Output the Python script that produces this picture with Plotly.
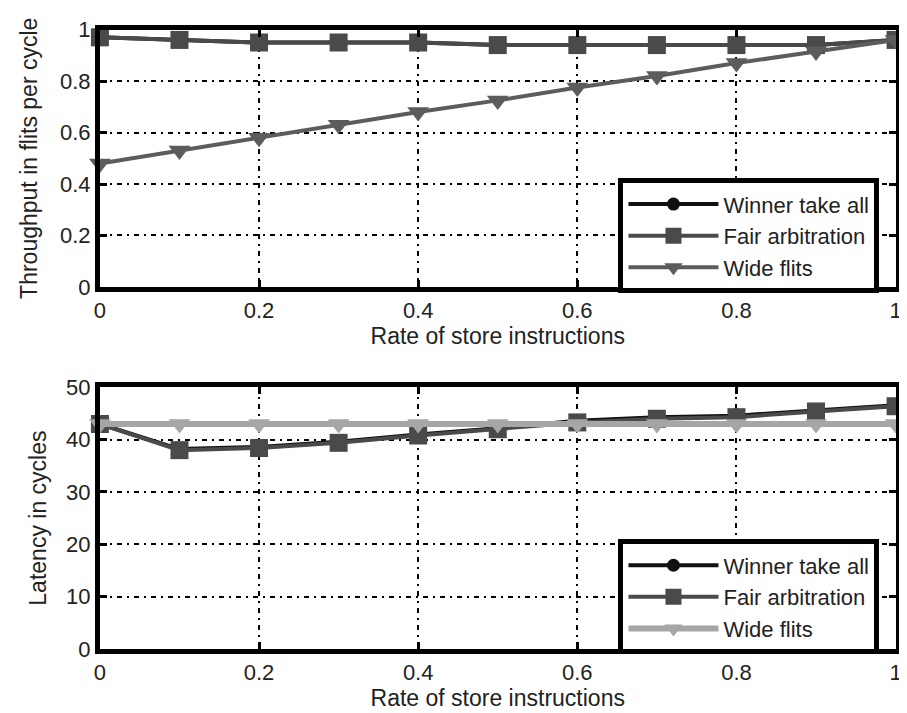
import plotly.graph_objects as go

x_rate = [0, 0.1, 0.2, 0.3, 0.4, 0.5, 0.6, 0.7, 0.8, 0.9, 1.0]

# Top: throughput (flits per cycle)
thr_winner = [0.97, 0.96, 0.95, 0.95, 0.95, 0.94, 0.94, 0.94, 0.94, 0.94, 0.96]
thr_fair = [0.97, 0.96, 0.95, 0.95, 0.95, 0.94, 0.94, 0.94, 0.94, 0.94, 0.96]
thr_wide = [0.48, 0.53, 0.58, 0.63, 0.68, 0.725, 0.775, 0.82, 0.87, 0.915, 0.96]

# Bottom: latency (cycles)
lat_winner = [43, 38.2, 38.6, 39.6, 41.0, 42.2, 43.6, 44.3, 44.6, 45.6, 46.6]
lat_fair = [43, 38.0, 38.4, 39.4, 40.8, 42.0, 43.3, 44.0, 44.3, 45.4, 46.4]
lat_wide = [43, 43, 43, 43, 43, 43, 43, 43, 43, 43, 43]

series_names = ["Winner take all", "Fair arbitration", "Wide flits"]
x_ticks = [0, 0.2, 0.4, 0.6, 0.8, 1]
thr_ticks = [0, 0.2, 0.4, 0.6, 0.8, 1]
lat_ticks = [0, 10, 20, 30, 40, 50]

FONT = "Liberation Sans, Arial, sans-serif"
TXT = "#222222"

fig = go.Figure()

colors = ["#111111", "#4a4a4a", "#5c5c5c"]
symbols = ["circle", "square", "triangle-down"]
msizes = [13, 18, 19]


def add_traces(ys, xa, ya, legend, wide_color, wide_width):
    for i, (name, y) in enumerate(zip(series_names, ys)):
        c = wide_color if i == 2 else colors[i]
        w = wide_width if i == 2 else 4
        fig.add_trace(go.Scatter(
            x=x_rate, y=y, name=name, mode="lines+markers",
            xaxis=xa, yaxis=ya, legend=legend, cliponaxis=False,
            line=dict(color=c, width=w),
            marker=dict(symbol=symbols[i], size=msizes[i], color=c,
                        line=dict(width=0)),
        ))


add_traces([thr_winner, thr_fair, thr_wide], "x", "y", "legend", "#5c5c5c", 4)
add_traces([lat_winner, lat_fair, lat_wide], "x2", "y2", "legend2", "#a6a6a6", 6)

axis_common = dict(
    showline=True, linewidth=5, linecolor="black", mirror="ticks",
    ticks="inside", ticklen=7, tickwidth=3, tickcolor="black",
    showgrid=True, gridcolor="black", gridwidth=1.5, griddash="5px,5px,2px,5px",
    zeroline=False,
    tickfont=dict(family=FONT, size=22, color=TXT),
    title_font=dict(family=FONT, size=23, color=TXT),
)

legend_common = dict(
    xanchor="right", yanchor="top",
    bgcolor="white", bordercolor="black", borderwidth=5,
    font=dict(family=FONT, size=22, color=TXT),
    tracegroupgap=0, itemwidth=90,
)

fig.update_layout(
    width=907, height=713,
    margin=dict(l=0, r=0, t=0, b=0),
    paper_bgcolor="white", plot_bgcolor="white",
    font=dict(family=FONT, size=22, color=TXT),
    showlegend=True,
    xaxis=dict(domain=[0.096, 0.985], anchor="y", range=[0, 1], tickvals=x_ticks,
               title=dict(text="Rate of store instructions", standoff=4), **axis_common),
    yaxis=dict(domain=[0.612, 0.986], anchor="x", range=[0, 1], tickvals=thr_ticks,
               title=dict(text="Throughput in flits per cycle", standoff=17), **axis_common),
    xaxis2=dict(domain=[0.096, 0.985], anchor="y2", range=[0, 1], tickvals=x_ticks,
                title=dict(text="Rate of store instructions", font=dict(family=FONT, size=22, color=TXT),
                           standoff=1), **axis_common),
    yaxis2=dict(domain=[0.086, 0.466], anchor="x2", range=[0, 50], tickvals=lat_ticks,
                title=dict(text="Latency in cycles", standoff=14), **axis_common),
    legend=dict(x=0.967, y=0.770, **legend_common),
    legend2=dict(x=0.967, y=0.245, **legend_common),
)

fig.write_html("out.html")
